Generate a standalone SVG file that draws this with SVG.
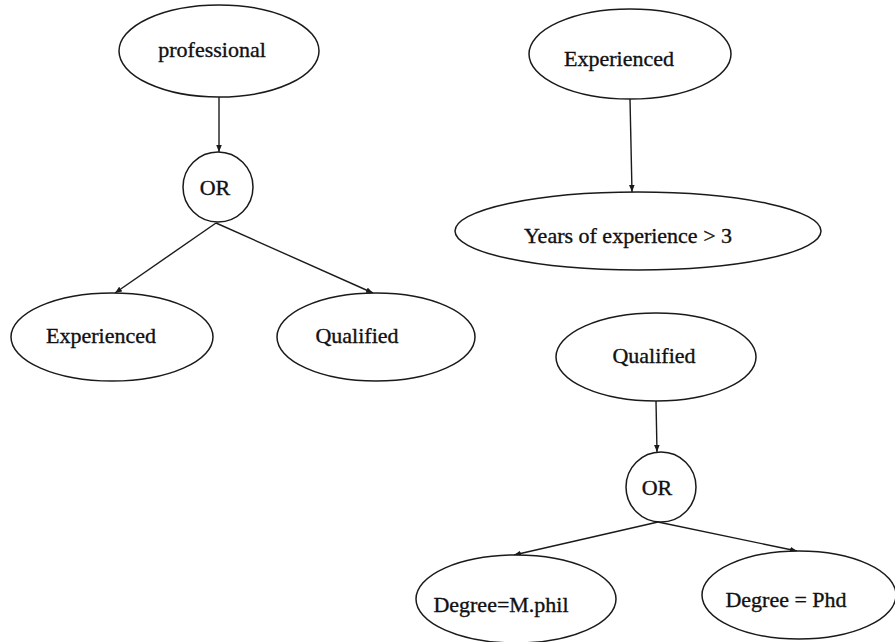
<svg xmlns="http://www.w3.org/2000/svg" width="895" height="642" viewBox="0 0 895 642">
  <defs>
    <style>
      .node { fill: #ffffff; stroke: #1a1a1a; stroke-width: 1.5; }
      .label { font-family: "Liberation Serif", "Times New Roman", serif; font-size: 22px; fill: #111; stroke: #111; stroke-width: 0.35; text-anchor: middle; }
      .edge { fill: none; stroke: #1a1a1a; stroke-width: 1.4; marker-end: url(#arrow); }
    </style>
    <marker id="arrow" viewBox="0 0 10 8" refX="10" refY="4" markerWidth="7" markerHeight="5.6" markerUnits="userSpaceOnUse" orient="auto">
      <path d="M0,0 L10,4 L0,8 z" fill="#1a1a1a"/>
    </marker>
  </defs>
  <rect width="895" height="642" fill="#ffffff"/>

  <!-- connectors -->
  <g id="edges">
    <line class="edge" x1="219" y1="97" x2="219" y2="152"/>
    <line class="edge" x1="216" y1="223" x2="115" y2="293"/>
    <line class="edge" x1="216" y1="223" x2="373" y2="293"/>
    <line class="edge" x1="630" y1="99" x2="632" y2="192"/>
    <line class="edge" x1="656" y1="401" x2="657" y2="452"/>
    <line class="edge" x1="658" y1="522" x2="514" y2="555"/>
    <line class="edge" x1="658" y1="522" x2="797" y2="551"/>
  </g>

  <!-- professional tree -->
  <g id="professional">
    <ellipse class="node" cx="219" cy="51" rx="100" ry="46"/>
    <text class="label" x="212" y="57">professional</text>
  </g>
  <g id="or-professional">
    <circle class="node" cx="218" cy="187" r="35"/>
    <text class="label" x="215" y="195">OR</text>
  </g>
  <g id="experienced-leaf">
    <ellipse class="node" cx="112" cy="337" rx="101" ry="44"/>
    <text class="label" x="101" y="343">Experienced</text>
  </g>
  <g id="qualified-leaf">
    <ellipse class="node" cx="376" cy="337" rx="99" ry="44"/>
    <text class="label" x="357" y="343">Qualified</text>
  </g>

  <!-- experienced tree -->
  <g id="experienced">
    <ellipse class="node" cx="630" cy="54" rx="101" ry="45"/>
    <text class="label" x="619" y="66">Experienced</text>
  </g>
  <g id="years">
    <ellipse class="node" cx="638" cy="231" rx="183" ry="39"/>
    <text class="label" x="628" y="243">Years of experience &gt; 3</text>
  </g>

  <!-- qualified tree -->
  <g id="qualified">
    <ellipse class="node" cx="656" cy="357" rx="100" ry="44"/>
    <text class="label" x="654" y="363">Qualified</text>
  </g>
  <g id="or-qualified">
    <circle class="node" cx="661" cy="487" r="35"/>
    <text class="label" x="657" y="495">OR</text>
  </g>
  <g id="mphil">
    <ellipse class="node" cx="516" cy="599" rx="100" ry="44"/>
    <text class="label" x="501" y="612">Degree=M.phil</text>
  </g>
  <g id="phd">
    <ellipse class="node" cx="799" cy="595" rx="97" ry="44"/>
    <text class="label" x="786" y="607">Degree = Phd</text>
  </g>
</svg>
